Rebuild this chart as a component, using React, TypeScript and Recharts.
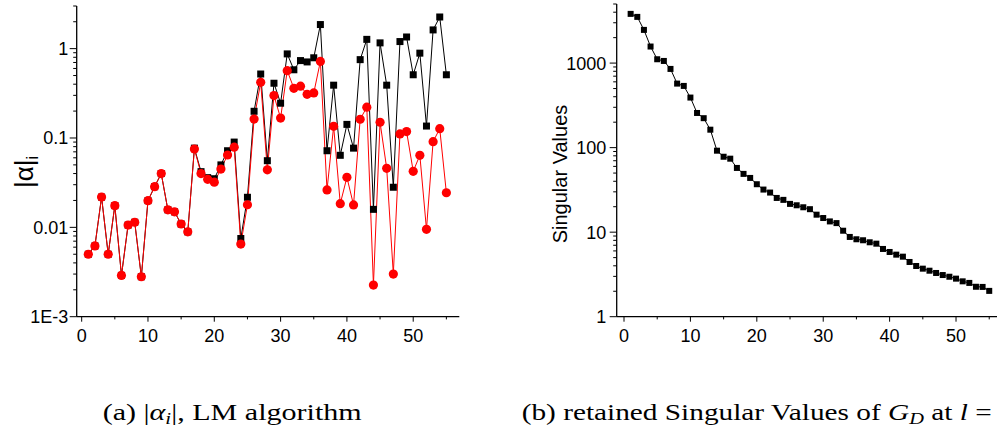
import React from 'react';
import { LineChart, Line, XAxis, YAxis } from 'recharts';

const FONT = 'Liberation Sans, Arial, sans-serif';
const SERIF = 'Liberation Serif, Times New Roman, serif';

const indices = [1, 2, 3, 4, 5, 6, 7, 8, 9, 10, 11, 12, 13, 14, 15, 16, 17, 18, 19, 20, 21, 22, 23, 24, 25, 26, 27, 28, 29, 30, 31, 32, 33, 34, 35, 36, 37, 38, 39, 40, 41, 42, 43, 44, 45, 46, 47, 48, 49, 50, 51, 52, 53, 54, 55];

const alphaBlack = [0.005, 0.0062, 0.0218, 0.005, 0.0175, 0.0029, 0.0106, 0.0114, 0.0028, 0.0199, 0.0285, 0.04, 0.0157, 0.0149, 0.0109, 0.0089, 0.077, 0.042, 0.036, 0.035, 0.05, 0.072, 0.09, 0.0075, 0.0217, 0.199, 0.52, 0.0557, 0.41, 0.245, 0.873, 0.58, 0.735, 0.71, 0.79, 1.86, 0.072, 0.39, 0.064, 0.142, 0.077, 0.753, 1.27, 0.0159, 1.16, 0.39, 0.0281, 1.2, 1.35, 0.51, 0.89, 0.136, 1.62, 2.26, 0.51];

const alphaRed = [0.005, 0.0062, 0.0218, 0.005, 0.0175, 0.0029, 0.0106, 0.0114, 0.0028, 0.0199, 0.0285, 0.04, 0.0157, 0.0149, 0.0109, 0.0089, 0.0753, 0.04, 0.0345, 0.032, 0.0449, 0.0645, 0.079, 0.0065, 0.0179, 0.163, 0.42, 0.044, 0.298, 0.167, 0.567, 0.36, 0.38, 0.308, 0.319, 0.72, 0.0262, 0.135, 0.0184, 0.0363, 0.0178, 0.162, 0.221, 0.00226, 0.15, 0.0458, 0.003, 0.111, 0.118, 0.0424, 0.064, 0.0095, 0.091, 0.127, 0.0244];

const singularValues = [3820, 3520, 2470, 1570, 1110, 1060, 853, 572, 537, 391, 257, 223, 163, 92, 78, 74, 57.5, 48.9, 43.8, 36.9, 31.9, 29.4, 25.4, 24.1, 21.6, 20.8, 19.7, 18.7, 16.1, 14.7, 13.4, 12.8, 10.4, 8.78, 8.24, 8.02, 7.59, 7.31, 6.33, 5.83, 5.42, 5.13, 4.44, 3.98, 3.7, 3.5, 3.29, 3.11, 2.97, 2.82, 2.62, 2.51, 2.26, 2.25, 2.02];

const xTicks = [0, 5, 10, 15, 20, 25, 30, 35, 40, 45, 50, 55];
const xMajorTicks = [0, 10, 20, 30, 40, 50];

const leftYTicks = [0.001, 0.002, 0.003, 0.004, 0.005, 0.006, 0.007, 0.008, 0.009, 0.01, 0.02, 0.03, 0.04, 0.05, 0.06, 0.07, 0.08, 0.09, 0.1, 0.2, 0.3, 0.4, 0.5, 0.6, 0.7, 0.8, 0.9, 1, 2, 3];
const leftYLabels: Record<string, string> = { '0.001': '1E-3', '0.01': '0.01', '0.1': '0.1', '1': '1' };

const rightYTicks = [1, 2, 3, 4, 5, 6, 7, 8, 9, 10, 20, 30, 40, 50, 60, 70, 80, 90, 100, 200, 300, 400, 500, 600, 700, 800, 900, 1000, 2000, 3000, 4000, 5000];
const rightYLabels: Record<string, string> = { '1': '1', '10': '10', '100': '100', '1000': '1000' };

const leftData = indices.map((x, i) => ({ x, black: alphaBlack[i], red: alphaRed[i] }));
const rightData = indices.map((x, i) => ({ x, sv: singularValues[i] }));

const XTick = (props: any) => {
  const { x, y, payload } = props;
  const v = payload.value;
  const major = xMajorTicks.includes(v);
  return (
    <g>
      <line x1={x} x2={x} y1={y} y2={y + (major ? 5 : 2.7)} stroke="#000" strokeWidth={1} />
      {major && (
        <text x={x} y={y + 25.5} textAnchor="middle" fontSize={18} fontFamily={FONT} fill="#000">
          {v}
        </text>
      )}
    </g>
  );
};

const makeYTick = (labels: Record<string, string>, gap: number) => (props: any) => {
  const { x, y, payload } = props;
  const label = labels[String(payload.value)];
  const major = label !== undefined;
  return (
    <g>
      <line x1={x} x2={x - (major ? 7 : 3.5)} y1={y} y2={y} stroke="#000" strokeWidth={1} />
      {major && (
        <text x={x - gap} y={y} dy="0.36em" textAnchor="end" fontSize={18} fontFamily={FONT} fill="#000">
          {label}
        </text>
      )}
    </g>
  );
};

const LeftYTick = makeYTick(leftYLabels, 8.5);
const RightYTick = makeYTick(rightYLabels, 10.5);

const BigSquare = (props: any) => {
  const { cx, cy, index } = props;
  return <rect key={`bs-${index}`} x={cx - 3.5} y={cy - 3.5} width={7} height={7} fill="#000" />;
};

const SmallSquare = (props: any) => {
  const { cx, cy, index } = props;
  return <rect key={`ss-${index}`} x={cx - 3} y={cy - 3} width={6} height={6} fill="#000" />;
};

export default function App() {
  return (
    <div style={{ position: 'absolute', left: 0, top: 0, width: 997, height: 431, background: '#fff', overflow: 'hidden' }}>
      <div style={{ position: 'absolute', left: 0, top: 0 }}>
        <LineChart width={480} height={360} data={leftData} margin={{ top: 6, right: 20.7, bottom: 13.3, left: 16.7 }}>
          <XAxis
            dataKey="x"
            type="number"
            domain={[-0.75, 56.95]}
            ticks={xTicks}
            allowDataOverflow
            height={30}
            tickSize={0}
            tickMargin={0}
            tickLine={false}
            axisLine={{ stroke: '#000', strokeWidth: 1.3 }}
            tick={<XTick />}
            interval={0}
          />
          <YAxis
            type="number"
            scale="log"
            domain={[0.001, 3]}
            ticks={leftYTicks}
            allowDataOverflow
            width={60}
            tickSize={0}
            tickMargin={0}
            tickLine={false}
            axisLine={{ stroke: '#000', strokeWidth: 1.3 }}
            tick={<LeftYTick />}
            interval={0}
          />
          <Line dataKey="black" stroke="#000" strokeWidth={1} dot={BigSquare} isAnimationActive={false} />
          <Line dataKey="red" stroke="#ff0000" strokeWidth={1} dot={{ r: 4.6, fill: '#ff0000', stroke: 'none' }} isAnimationActive={false} />
        </LineChart>
      </div>
      <div style={{ position: 'absolute', left: 500, top: 0 }}>
        <LineChart width={497} height={360} data={rightData} margin={{ top: 4, right: 0, bottom: 13.3, left: 56.7 }}>
          <XAxis
            dataKey="x"
            type="number"
            domain={[-1.1, 56.17]}
            ticks={xTicks}
            allowDataOverflow
            height={30}
            tickSize={0}
            tickMargin={0}
            tickLine={false}
            axisLine={{ stroke: '#000', strokeWidth: 1.3 }}
            tick={<XTick />}
            interval={0}
          />
          <YAxis
            type="number"
            scale="log"
            domain={[1, 5000]}
            ticks={rightYTicks}
            allowDataOverflow
            width={60}
            tickSize={0}
            tickMargin={0}
            tickLine={false}
            axisLine={{ stroke: '#000', strokeWidth: 1.3 }}
            tick={<RightYTick />}
            interval={0}
          />
          <Line dataKey="sv" stroke="#000" strokeWidth={1} dot={SmallSquare} isAnimationActive={false} />
        </LineChart>
      </div>
      <svg width={997} height={431} style={{ position: 'absolute', left: 0, top: 0, pointerEvents: 'none' }}>
        <text transform="translate(33,172) rotate(-90)" textAnchor="middle" fontSize={26} fontFamily={FONT} fill="#000">
          |α|<tspan fontSize={16} dy={5}>i</tspan>
        </text>
        <text transform="translate(567,174) rotate(-90)" textAnchor="middle" fontSize={20} fontFamily={FONT} fill="#000">
          Singular Values
        </text>
        <text x={102.7} y={419.5} fontSize={23} fontFamily={SERIF} fill="#000" textLength={259} lengthAdjust="spacingAndGlyphs">
          (a) |<tspan fontStyle="italic">α</tspan><tspan fontStyle="italic" fontSize={16} dy={4}>i</tspan><tspan dy={-4}>|, LM algorithm</tspan>
        </text>
        <text x={521.7} y={419.5} fontSize={23} fontFamily={SERIF} fill="#000" textLength={470} lengthAdjust="spacingAndGlyphs">
          (b) retained Singular Values of <tspan fontStyle="italic">G</tspan><tspan fontStyle="italic" fontSize={16} dy={4}>D</tspan><tspan dy={-4}> at </tspan><tspan fontStyle="italic">l</tspan> =
        </text>
      </svg>
    </div>
  );
}
